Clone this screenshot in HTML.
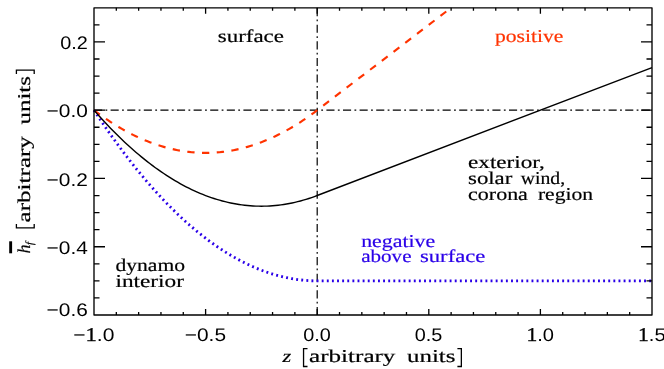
<!DOCTYPE html>
<html><head><meta charset="utf-8"><title>plot</title>
<style>
html,body{margin:0;padding:0;background:#fff;}
body{width:664px;height:369px;overflow:hidden;}
svg{display:block;will-change:transform;}
text{font-family:"Liberation Serif",serif;fill:#000;text-rendering:geometricPrecision;}
.lab text{font-size:18px;stroke-width:0.2px;}
.tk text{font-family:"Liberation Sans",sans-serif;font-size:18.2px;stroke-width:0px;}
.tk .one{font-family:"Liberation Serif",serif;font-size:19.6px;stroke:#000;stroke-width:0.3px;}
.ttl{stroke:#000;}
</style></head><body>
<svg width="664" height="369" viewBox="0 0 664 369">
<rect width="664" height="369" fill="#fff"/>
<path d="M94.0,110.20 H652.0" stroke="#000" stroke-width="1.2" fill="none" stroke-dasharray="8.1 3.35 1.8 3.35"/>
<path d="M317.20,315.0 V7.8" stroke="#000" stroke-width="1.2" fill="none" stroke-dasharray="8.1 3.35 1.8 3.35"/>
<path d="M94.00,110.20 L96.79,112.31 L99.58,114.36 L102.37,116.36 L105.16,118.31 L107.95,120.20 L110.74,122.04 L113.53,123.83 L116.32,125.56 L119.11,127.24 L121.90,128.87 L124.69,130.44 L127.48,131.96 L130.27,133.43 L133.06,134.84 L135.85,136.20 L138.64,137.51 L141.43,138.76 L144.22,139.96 L147.01,141.11 L149.80,142.20 L152.59,143.24 L155.38,144.23 L158.17,145.16 L160.96,146.04 L163.75,146.87 L166.54,147.64 L169.33,148.36 L172.12,149.03 L174.91,149.64 L177.70,150.20 L180.49,150.71 L183.28,151.16 L186.07,151.56 L188.86,151.91 L191.65,152.20 L194.44,152.44 L197.23,152.63 L200.02,152.76 L202.81,152.84 L205.60,152.87 L208.39,152.84 L211.18,152.76 L213.97,152.63 L216.76,152.44 L219.55,152.20 L222.34,151.91 L225.13,151.56 L227.92,151.16 L230.71,150.71 L233.50,150.20 L236.29,149.64 L239.08,149.03 L241.87,148.36 L244.66,147.64 L247.45,146.87 L250.24,146.04 L253.03,145.16 L255.82,144.23 L258.61,143.24 L261.40,142.20 L264.19,141.11 L266.98,139.96 L269.77,138.76 L272.56,137.51 L275.35,136.20 L278.14,134.84 L280.93,133.43 L283.72,131.96 L286.51,130.44 L289.30,128.87 L292.09,127.24 L294.88,125.56 L297.67,123.83 L300.46,122.04 L303.25,120.20 L306.04,118.31 L308.83,116.36 L311.62,114.36 L314.41,112.31 L317.20,110.20 L451.12,7.80" stroke="#ff3300" stroke-width="2.15" fill="none" stroke-dasharray="7.3 7.46"/>
<path d="M94.00,110.20 L96.79,114.44 L99.58,118.63 L102.37,122.76 L105.16,126.84 L107.95,130.87 L110.74,134.84 L113.53,138.76 L116.32,142.63 L119.11,146.44 L121.90,150.20 L124.69,153.91 L127.48,157.56 L130.27,161.16 L133.06,164.71 L135.85,168.20 L138.64,171.64 L141.43,175.03 L144.22,178.36 L147.01,181.64 L149.80,184.87 L152.59,188.04 L155.38,191.16 L158.17,194.23 L160.96,197.24 L163.75,200.20 L166.54,203.11 L169.33,205.96 L172.12,208.76 L174.91,211.51 L177.70,214.20 L180.49,216.84 L183.28,219.43 L186.07,221.96 L188.86,224.44 L191.65,226.87 L194.44,229.24 L197.23,231.56 L200.02,233.83 L202.81,236.04 L205.60,238.20 L208.39,240.31 L211.18,242.36 L213.97,244.36 L216.76,246.31 L219.55,248.20 L222.34,250.04 L225.13,251.83 L227.92,253.56 L230.71,255.24 L233.50,256.87 L236.29,258.44 L239.08,259.96 L241.87,261.43 L244.66,262.84 L247.45,264.20 L250.24,265.51 L253.03,266.76 L255.82,267.96 L258.61,269.11 L261.40,270.20 L264.19,271.24 L266.98,272.23 L269.77,273.16 L272.56,274.04 L275.35,274.87 L278.14,275.64 L280.93,276.36 L283.72,277.03 L286.51,277.64 L289.30,278.20 L292.09,278.71 L294.88,279.16 L297.67,279.56 L300.46,279.91 L303.25,280.20 L306.04,280.44 L308.83,280.63 L311.62,280.76 L314.41,280.84 L317.20,280.87 L652.00,280.87" stroke="#2a00e8" stroke-width="2.8" fill="none" stroke-dasharray="1.9 3.217"/>
<path d="M94.00,110.20 L96.79,113.37 L99.58,116.49 L102.37,119.56 L105.16,122.57 L107.95,125.53 L110.74,128.44 L113.53,131.29 L116.32,134.09 L119.11,136.84 L121.90,139.53 L124.69,142.17 L127.48,144.76 L130.27,147.29 L133.06,149.77 L135.85,152.20 L138.64,154.57 L141.43,156.89 L144.22,159.16 L147.01,161.37 L149.80,163.53 L152.59,165.64 L155.38,167.69 L158.17,169.69 L160.96,171.64 L163.75,173.53 L166.54,175.37 L169.33,177.16 L172.12,178.89 L174.91,180.57 L177.70,182.20 L180.49,183.77 L183.28,185.29 L186.07,186.76 L188.86,188.17 L191.65,189.53 L194.44,190.84 L197.23,192.09 L200.02,193.29 L202.81,194.44 L205.60,195.53 L208.39,196.57 L211.18,197.56 L213.97,198.49 L216.76,199.37 L219.55,200.20 L222.34,200.97 L225.13,201.69 L227.92,202.36 L230.71,202.97 L233.50,203.53 L236.29,204.04 L239.08,204.49 L241.87,204.89 L244.66,205.24 L247.45,205.53 L250.24,205.77 L253.03,205.96 L255.82,206.09 L258.61,206.17 L261.40,206.20 L264.19,206.17 L266.98,206.09 L269.77,205.96 L272.56,205.77 L275.35,205.53 L278.14,205.24 L280.93,204.89 L283.72,204.49 L286.51,204.04 L289.30,203.53 L292.09,202.97 L294.88,202.36 L297.67,201.69 L300.46,200.97 L303.25,200.20 L306.04,199.37 L308.83,198.49 L311.62,197.56 L314.41,196.57 L317.20,195.53 L652.00,67.53" stroke="#000" stroke-width="1.4" fill="none"/>
<rect x="94.0" y="7.8" width="558.0" height="307.2" fill="none" stroke="#000" stroke-width="1.35" stroke-linejoin="round"/>
<path d="M116.32,315.00 v-3.00 M116.32,7.80 v3.00 M138.64,315.00 v-3.00 M138.64,7.80 v3.00 M160.96,315.00 v-3.00 M160.96,7.80 v3.00 M183.28,315.00 v-3.00 M183.28,7.80 v3.00 M205.60,315.00 v-6.00 M205.60,7.80 v6.00 M227.92,315.00 v-3.00 M227.92,7.80 v3.00 M250.24,315.00 v-3.00 M250.24,7.80 v3.00 M272.56,315.00 v-3.00 M272.56,7.80 v3.00 M294.88,315.00 v-3.00 M294.88,7.80 v3.00 M317.20,315.00 v-6.00 M317.20,7.80 v6.00 M339.52,315.00 v-3.00 M339.52,7.80 v3.00 M361.84,315.00 v-3.00 M361.84,7.80 v3.00 M384.16,315.00 v-3.00 M384.16,7.80 v3.00 M406.48,315.00 v-3.00 M406.48,7.80 v3.00 M428.80,315.00 v-6.00 M428.80,7.80 v6.00 M451.12,315.00 v-3.00 M451.12,7.80 v3.00 M473.44,315.00 v-3.00 M473.44,7.80 v3.00 M495.76,315.00 v-3.00 M495.76,7.80 v3.00 M518.08,315.00 v-3.00 M518.08,7.80 v3.00 M540.40,315.00 v-6.00 M540.40,7.80 v6.00 M562.72,315.00 v-3.00 M562.72,7.80 v3.00 M585.04,315.00 v-3.00 M585.04,7.80 v3.00 M607.36,315.00 v-3.00 M607.36,7.80 v3.00 M629.68,315.00 v-3.00 M629.68,7.80 v3.00 M94.00,297.93 h5.50 M652.00,297.93 h-5.50 M94.00,280.87 h5.50 M652.00,280.87 h-5.50 M94.00,263.80 h5.50 M652.00,263.80 h-5.50 M94.00,246.73 h11.00 M652.00,246.73 h-11.00 M94.00,229.67 h5.50 M652.00,229.67 h-5.50 M94.00,212.60 h5.50 M652.00,212.60 h-5.50 M94.00,195.53 h5.50 M652.00,195.53 h-5.50 M94.00,178.47 h11.00 M652.00,178.47 h-11.00 M94.00,161.40 h5.50 M652.00,161.40 h-5.50 M94.00,144.33 h5.50 M652.00,144.33 h-5.50 M94.00,127.27 h5.50 M652.00,127.27 h-5.50 M94.00,110.20 h11.00 M652.00,110.20 h-11.00 M94.00,93.13 h5.50 M652.00,93.13 h-5.50 M94.00,76.07 h5.50 M652.00,76.07 h-5.50 M94.00,59.00 h5.50 M652.00,59.00 h-5.50 M94.00,41.93 h11.00 M652.00,41.93 h-11.00 M94.00,24.87 h5.50 M652.00,24.87 h-5.50" stroke="#000" stroke-width="1.3" fill="none"/>
<g class="tk"><text x="73.2" y="340.6" textLength="41.2" lengthAdjust="spacingAndGlyphs" style="stroke:#000">−<tspan class="one">1</tspan>.0</text><text x="184.8" y="340.6" textLength="41.2" lengthAdjust="spacingAndGlyphs" style="stroke:#000">−0.5</text><text x="303.2" y="340.6" textLength="27.6" lengthAdjust="spacingAndGlyphs" style="stroke:#000">0.0</text><text x="414.8" y="340.6" textLength="27.6" lengthAdjust="spacingAndGlyphs" style="stroke:#000">0.5</text><text x="526.4" y="340.6" textLength="27.6" lengthAdjust="spacingAndGlyphs" style="stroke:#000"><tspan class="one">1</tspan>.0</text><text x="638.0" y="340.6" textLength="27.6" lengthAdjust="spacingAndGlyphs" style="stroke:#000"><tspan class="one">1</tspan>.5</text><text x="60.2" y="48.9" textLength="27.6" lengthAdjust="spacingAndGlyphs" style="stroke:#000">0.2</text><text x="46.6" y="117.2" textLength="41.2" lengthAdjust="spacingAndGlyphs" style="stroke:#000">−0.0</text><text x="46.6" y="185.5" textLength="41.2" lengthAdjust="spacingAndGlyphs" style="stroke:#000">−0.2</text><text x="46.6" y="253.7" textLength="41.2" lengthAdjust="spacingAndGlyphs" style="stroke:#000">−0.4</text><text x="46.6" y="315.5" textLength="41.2" lengthAdjust="spacingAndGlyphs" style="stroke:#000">−0.6</text></g>
<g class="lab">
<text x="217.8" y="42.1" textLength="66.1" lengthAdjust="spacingAndGlyphs" style="stroke:#000">surface</text><text x="495.0" y="42.1" textLength="68.3" lengthAdjust="spacingAndGlyphs" style="fill:#ff3300;stroke:#ff3300">positive</text><text x="468.1" y="168.3" textLength="76.7" lengthAdjust="spacingAndGlyphs" style="stroke:#000">exterior,</text><text x="468.1" y="184.0" textLength="44.2" lengthAdjust="spacingAndGlyphs" style="stroke:#000">solar</text><text x="520.8" y="184.0" textLength="44.3" lengthAdjust="spacingAndGlyphs" style="stroke:#000">wind,</text><text x="468.1" y="199.7" textLength="59.8" lengthAdjust="spacingAndGlyphs" style="stroke:#000">corona</text><text x="537.9" y="199.7" textLength="55.1" lengthAdjust="spacingAndGlyphs" style="stroke:#000">region</text><text x="361.2" y="246.8" textLength="74.1" lengthAdjust="spacingAndGlyphs" style="fill:#2a00e8;stroke:#2a00e8">negative</text><text x="361.2" y="262.4" textLength="50.3" lengthAdjust="spacingAndGlyphs" style="fill:#2a00e8;stroke:#2a00e8">above</text><text x="420.0" y="262.4" textLength="65.3" lengthAdjust="spacingAndGlyphs" style="fill:#2a00e8;stroke:#2a00e8">surface</text><text x="115.5" y="270.7" textLength="69.5" lengthAdjust="spacingAndGlyphs" style="stroke:#000">dynamo</text><text x="115.5" y="286.6" textLength="68.4" lengthAdjust="spacingAndGlyphs" style="stroke:#000">interior</text>
<text x="282.6" y="362.3" textLength="8.7" lengthAdjust="spacingAndGlyphs" style="stroke:#000" font-style="italic">z</text>
<text x="309.1" y="362.3" textLength="86.3" lengthAdjust="spacingAndGlyphs" style="stroke:#000">arbitrary</text>
<text x="407.0" y="362.3" textLength="48.4" lengthAdjust="spacingAndGlyphs" style="stroke:#000">units</text>
<path d="M307.50,348.70 H303.55 V366.50 H307.50 M457.40,348.70 H461.35 V366.50 H457.40" fill="none" stroke="#000" stroke-width="1.3"/>
<g transform="translate(30,253.5) rotate(-90)">
<text x="0" y="0" font-style="italic" style="stroke:#000">h</text>
<text x="8.5" y="3.2" font-style="italic" style="font-size:11px;stroke:#000">f</text>
<text x="31.1" y="0.0" textLength="86.3" lengthAdjust="spacingAndGlyphs" style="stroke:#000">arbitrary</text>
<text x="129.0" y="0.0" textLength="48.4" lengthAdjust="spacingAndGlyphs" style="stroke:#000">units</text>
<path d="M29.50,-13.60 H25.55 V4.20 H29.50 M179.40,-13.60 H183.35 V4.20 H179.40" fill="none" stroke="#000" stroke-width="1.3"/>
<rect x="0.2" y="-20.8" width="12" height="2.9" fill="#000"/>
</g>
</g>
</svg>
</body></html>
